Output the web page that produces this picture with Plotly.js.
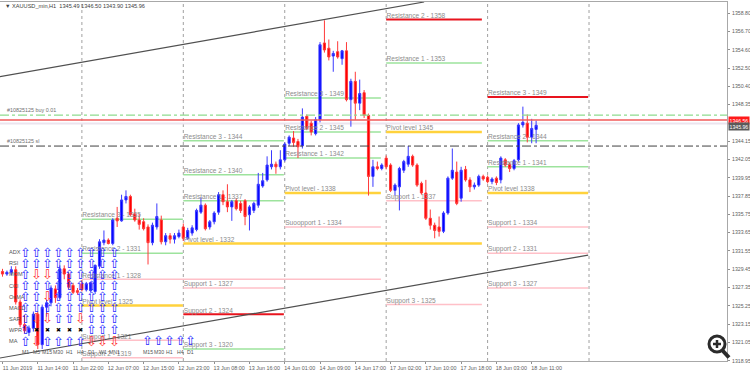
<!DOCTYPE html>
<html><head><meta charset="utf-8">
<script src="https://cdn.plot.ly/plotly-3.0.1.min.js"></script>
<style>html,body{margin:0;padding:0;background:#fff}#chart{width:750px;height:371px}</style>
</head><body><div id="chart"></div>
<script>
// ---- candle data (H1 bars, 11 Jun 06:00 .. 18 Jun 11:00) ----
const open  = [1329.2,1328.9,1329.1,1329.4,1325.7,1323.1,1322.2,1322.7,1324.3,1320.8,
 1325.1,1325.6,1327.2,1326.2,1329.5,1328.9,1327.6,1327.0,1327.8,1327.1,
 1327.0,1326.9,1329.8,1332.5,1332.8,1332.4,1335.3,1335.0,1337.4,1337.8,
 1335.8,1335.1,1334.9,1334.3,1332.5,1334.3,1335.1,1332.6,1333.3,1332.9,
 1333.2,1334.3,1333.0,1333.6,1334.0,1336.0,1336.8,1334.3,1334.9,1336.0,
 1338.0,1337.2,1336.6,1337.3,1337.0,1337.3,1335.7,1336.2,1336.8,1339.0,
 1339.7,1341.2,1341.5,1341.2,1342.0,1343.9,1344.5,1344.1,1343.6,1347.0,
 1346.2,1345.0,1346.6,1355.4,1354.8,1353.9,1354.4,1353.6,1354.5,1348.9,
 1351.0,1348.5,1349.7,1347.1,1340.1,1341.2,1341.0,1342.2,1341.4,1338.5,
 1338.9,1340.8,1341.5,1342.4,1341.4,1339.3,1338.2,1335.3,1334.5,1334.3,
 1333.8,1335.9,1339.9,1340.6,1337.6,1340.9,1339.7,1338.9,1339.1,1340.1,
 1340.0,1339.5,1339.9,1339.7,1342.0,1341.5,1341.0,1342.0,1346.0,1346.2,
 1344.6,1345.49];
const high  = [1329.5,1329.3,1329.8,1329.8,1326.0,1324.2,1323.0,1324.6,1324.6,1325.4,
 1326.0,1327.6,1327.6,1329.9,1329.9,1329.1,1327.9,1327.3,1328.2,1328.0,
 1328.0,1330.0,1332.9,1333.9,1333.0,1335.3,1336.6,1338.0,1338.5,1338.0,
 1336.4,1335.8,1335.3,1334.6,1334.8,1337.0,1335.6,1333.6,1333.6,1333.6,
 1334.0,1334.7,1334.2,1334.5,1336.4,1337.7,1337.0,1335.1,1336.1,1338.3,
 1338.5,1339.2,1337.4,1337.6,1337.3,1337.5,1336.8,1337.2,1340.5,1340.5,
 1342.4,1343.1,1341.8,1343.1,1344.0,1344.8,1345.3,1344.4,1347.9,1347.2,
 1346.5,1346.9,1355.5,1358.0,1355.8,1354.5,1355.6,1354.6,1355.5,1351.3,
 1352.1,1351.2,1350.0,1347.3,1342.0,1341.8,1341.6,1342.5,1341.6,1339.3,
 1341.2,1342.0,1343.6,1342.6,1341.6,1339.5,1339.7,1336.3,1334.8,1335.5,
 1336.1,1340.1,1343.3,1341.8,1341.2,1341.3,1340.0,1339.4,1340.3,1340.3,
 1340.2,1340.0,1340.1,1342.4,1342.2,1341.7,1342.1,1346.2,1348.1,1347.2,
 1346.7,1346.50];
const low   = [1328.6,1328.7,1328.8,1325.4,1322.8,1322.1,1321.8,1322.3,1320.3,1320.3,
 1324.0,1325.2,1325.6,1326.0,1328.3,1327.2,1326.6,1326.5,1326.9,1326.9,
 1326.8,1326.6,1329.5,1332.2,1332.3,1332.2,1334.3,1334.9,1337.0,1335.5,
 1334.9,1334.0,1333.9,1330.0,1332.2,1334.0,1332.3,1332.2,1332.4,1332.4,
 1333.0,1332.7,1332.8,1333.3,1333.8,1335.8,1333.9,1334.0,1334.6,1335.7,
 1336.8,1336.0,1335.0,1336.2,1335.9,1334.5,1333.9,1335.9,1336.5,1338.8,
 1339.5,1340.9,1340.4,1340.9,1341.8,1343.6,1343.5,1342.2,1343.3,1345.4,
 1344.8,1344.8,1346.3,1354.3,1353.4,1352.1,1353.6,1352.9,1348.7,1345.8,
 1346.6,1347.7,1346.8,1337.9,1338.9,1340.8,1340.8,1340.9,1338.3,1337.9,
 1336.2,1340.5,1341.2,1341.2,1338.9,1338.0,1335.1,1334.0,1333.0,1333.2,
 1333.6,1335.7,1339.7,1336.8,1337.2,1339.5,1338.3,1338.6,1338.9,1339.6,
 1339.3,1339.2,1339.1,1339.3,1341.2,1340.6,1340.8,1341.8,1345.7,1344.0,
 1343.9,1343.90];
const close = [1328.9,1329.1,1329.4,1325.7,1323.1,1322.4,1322.7,1324.3,1320.8,1325.1,
 1325.6,1327.3,1326.2,1329.5,1328.9,1327.4,1326.8,1326.8,1327.1,1327.8,
 1327.9,1329.9,1332.6,1332.8,1332.4,1335.1,1335.0,1337.4,1337.8,1335.7,
 1335.1,1334.6,1334.1,1332.5,1334.5,1335.5,1332.6,1333.3,1332.9,1333.3,
 1333.6,1333.0,1333.9,1334.2,1336.2,1336.8,1334.1,1334.9,1335.9,1338.0,
 1337.2,1336.6,1337.2,1336.4,1336.2,1335.5,1336.6,1337.0,1339.2,1339.6,
 1341.4,1341.5,1341.2,1342.0,1343.8,1344.6,1344.0,1343.5,1346.9,1345.6,
 1345.2,1346.6,1355.2,1354.6,1353.8,1354.2,1353.8,1354.5,1348.9,1351.0,
 1348.5,1349.6,1347.1,1340.1,1341.2,1341.0,1341.4,1341.2,1338.5,1339.1,
 1341.0,1341.8,1342.4,1341.4,1339.1,1338.2,1335.3,1334.5,1333.9,1333.8,
 1335.9,1339.9,1340.8,1337.0,1340.8,1339.7,1338.9,1339.1,1340.1,1339.8,
 1339.5,1339.8,1339.4,1342.2,1341.4,1341.0,1341.9,1346.0,1346.3,1344.6,
 1345.6,1345.96];
const barIdx = open.map((_, i) => i);

// ---- time axis ----
const tickIdx  = [0,8,16,24,32,40,48,56,64,72,80,88,96,104,112,120];
const tickText = ["11 Jun 2019","11 Jun 14:00","11 Jun 22:00","12 Jun 07:00","12 Jun 15:00",
 "12 Jun 23:00","13 Jun 08:00","13 Jun 16:00","14 Jun 01:00","14 Jun 09:00","14 Jun 17:00",
 "17 Jun 02:00","17 Jun 10:00","17 Jun 18:00","18 Jun 03:00","18 Jun 11:00"];
const dayStart = [18,41,64,87,110,133];

// ---- price axis ----
const priceTicks = [1318.95,1321.05,1323.15,1325.25,1327.35,1329.45,1331.55,1333.65,1335.75,
 1337.85,1339.95,1342.05,1344.15,1348.35,1350.40,1352.50,1354.60,1356.70,1358.80];

// ---- pivot levels ----
const pivStart = [18,18,18,18,18,18, 41,41,41,41,41,41,41, 64,64,64,64,64, 87,87,87,87,87, 110,110,110,110,110,110,110];
const pivEnd   = [40.9,40.9,85.8,40.9,40.9,40.9, 63.8,63.8,63.8,108.7,63.8,63.8,63.8, 85.8,85.8,85.8,85.8,85.8, 108.7,108.7,108.7,108.7,108.7, 132.8,132.8,132.8,132.8,132.8,132.8,132.8];
const pivPrice = [1335.2,1331.3,1328.3,1325.3,1321.3,1319.3, 1344.2,1340.3,1337.3,1332.4,1327.3,1324.3,1320.3,
 1349.1,1345.2,1342.2,1338.2,1334.3, 1358.1,1353.1,1345.2,1337.3,1325.4,
 1349.2,1344.2,1341.2,1338.2,1334.3,1331.3,1327.3];
const pivKind  = ["G","G","P","Y","P","P", "G","G","G","Y","P","R","G", "G","G","G","Y","P", "R","G","Y","P","P", "R","G","G","Y","P","P","P"];
const pivLabel = ["Resistance 3 - 1335","Resistance 2 - 1331","Resistance 1 - 1328","Pivot level - 1325","Support 1 - 1321","Support 2 - 1319",
 "Resistance 3 - 1344","Resistance 2 - 1340","Resistance 1 - 1337","Pivot level - 1332","Support 1 - 1327","Support 2 - 1324","Support 3 - 1320",
 "Resistance 3 - 1349","Resistance 2 - 1345","Resistance 1 - 1342","Pivot level - 1338","Suoopport 1 - 1334",
 "Resistance 2 - 1358","Resistance 1 - 1353","Pivot level 1345","Support 1 - 1337","Support 3 - 1325",
 "Resistance 3 - 1349","Resistance 2 - 1344","Resistance 1 - 1341","Pivot level 1338","Support 1 - 1334","Support 2 - 1331","Support 3 - 1327"];

// ---- trend channel lines [bar, price] ----
const trendStartX = [-0.6, -0.6];
const trendStartY = [1351.53, 1319.27];
const trendEndX   = [95.6, 132.8];
const trendEndY   = [1360.10, 1331.08];

// ---- order / price lines ----
const buyPrice = 1347.13, slPrice = 1343.58, askPrice = 1346.56, bidPrice = 1345.96;
const orderTexts = ["#10825125 buy 0.01", "#10825125 sl"];
const titleText = "▼ XAUUSD_min,H1  1345.49 1346.50 1343.90 1345.96";

// ---- signal panel ----
const sigRows = ["ADX","RSI","MOM","CCI","OsMA","MACD","SAR","WPR","MA"];
const sigCols = ["M1","M5","M15","M30","H1","H4","D1","W1","MN1"];
const sigGrid = [
 "uuuuuuuuu",
 "uuuuuuuuu",
 "udduuuuuu",
 "uuuuuuuuu",
 "uuduuuuuu",
 "uuuuuuuuu",
 "udduuduuu",
 "uxxxxxuuu",
 "uduuuuddd"];
const sig2Cols = ["M15","M30","H1","H4","D1"];
const sig2Row  = "uuuuu";

// ---------------- layout helpers ----------------
const W = 750, H = 371, ML = 0, MR = 23, MT = 2, MB = 10;
const PW = W - ML - MR, PH = H - MT - MB;
const px = x => (x - ML) / PW;
const py = y => 1 - (y - MT) / PH;
const FONT = "Liberation Sans, Arial, sans-serif";

const kindStyle = {
  G: {color:"#9de39d", width:1.5},
  P: {color:"#ffc0c8", width:1.5},
  Y: {color:"#ffd23c", width:2.5},
  R: {color:"#e8141e", width:2}
};

const shapes = [];
dayStart.forEach(d => shapes.push({type:"line", xref:"x", yref:"paper", x0:d, x1:d, y0:0, y1:1,
  line:{color:"#a0a0a0", width:1, dash:"dot"}, layer:"below"}));
pivPrice.forEach((p, i) => shapes.push({type:"line", xref:"x", yref:"y", x0:pivStart[i], x1:pivEnd[i], y0:p, y1:p,
  line:kindStyle[pivKind[i]], layer:"below"}));
trendStartX.forEach((x0, i) => shapes.push({type:"line", xref:"x", yref:"y", x0:x0, y0:trendStartY[i],
  x1:trendEndX[i], y1:trendEndY[i], line:{color:"#505050", width:1.2}}));
shapes.push({type:"line", xref:"paper", yref:"y", x0:0, x1:1, y0:bidPrice+0.2, y1:bidPrice+0.2, line:{color:"#ece4ee", width:2}, layer:"below"});
shapes.push({type:"line", xref:"paper", yref:"y", x0:0, x1:1, y0:buyPrice, y1:buyPrice, line:{color:"#8fdc8f", width:1.2, dash:"dashdot"}});
shapes.push({type:"line", xref:"paper", yref:"y", x0:0, x1:1, y0:askPrice, y1:askPrice, line:{color:"#f25a5a", width:1.5}});
shapes.push({type:"line", xref:"paper", yref:"y", x0:0, x1:1, y0:slPrice, y1:slPrice, line:{color:"#404040", width:1, dash:"dashdot"}});
// zoom (magnifier) icon
shapes.push({type:"line", xref:"paper", yref:"paper", x0:px(722.5), y0:py(350.5), x1:px(729), y1:py(357.5), line:{color:"#2b2b2b", width:4}});
shapes.push({type:"circle", xref:"paper", yref:"paper", x0:px(709), x1:px(725), y0:py(336), y1:py(352), fillcolor:"#ffffff", line:{color:"#2b2b2b", width:3}});
shapes.push({type:"line", xref:"paper", yref:"paper", x0:px(713), x1:px(721), y0:py(344), y1:py(344), line:{color:"#2b2b2b", width:2.5}});
shapes.push({type:"line", xref:"paper", yref:"paper", x0:px(717), x1:px(717), y0:py(340), y1:py(348), line:{color:"#2b2b2b", width:2.5}});

const annotations = [];
annotations.push({xref:"paper", yref:"paper", x:px(3), y:py(6), xanchor:"left", yanchor:"middle", showarrow:false,
  text:titleText, font:{family:FONT, size:5.6, color:"#404040"}});
annotations.push({xref:"x", yref:"y", x:0.6, y:buyPrice, xanchor:"left", yanchor:"bottom", showarrow:false,
  text:orderTexts[0], font:{family:FONT, size:5.4, color:"#707070"}});
annotations.push({xref:"x", yref:"y", x:0.6, y:slPrice, xanchor:"left", yanchor:"bottom", showarrow:false,
  text:orderTexts[1], font:{family:FONT, size:5.4, color:"#707070"}});
// price labels on the axis
annotations.push({xref:"paper", yref:"y", x:1, y:askPrice, xanchor:"left", yanchor:"middle", showarrow:false,
  text:askPrice.toFixed(2), bgcolor:"#ff1a1a", borderpad:0.5, xshift:1, font:{family:FONT, size:5.2, color:"#ffffff"}});
annotations.push({xref:"paper", yref:"y", x:1, y:bidPrice, xanchor:"left", yanchor:"middle", showarrow:false,
  text:bidPrice.toFixed(2), bgcolor:"#5a5a5a", borderpad:0.5, xshift:1, yshift:-1, font:{family:FONT, size:5.2, color:"#ffffff"}});

// signal panel
const colX = sigCols.map((_, j) => 25 + 11.13 * j);
const rowY = sigRows.map((_, i) => 252.3 + 11.09 * i);
const glyph = {u:"⇧", d:"⇩", x:"✖"};
const gcol  = {u:"#2a2aff", d:"#ff3030", x:"#000000"};
const gsize = {u:13, d:13, x:6};
sigRows.forEach((r, i) => {
  annotations.push({xref:"paper", yref:"paper", x:px(7), y:py(rowY[i]), xanchor:"left", yanchor:"middle", showarrow:false,
    text:r, font:{family:FONT, size:5.6, color:"#555555"}});
  sigGrid[i].split("").forEach((s, j) => annotations.push({xref:"paper", yref:"paper", x:px(colX[j]), y:py(rowY[i]),
    xanchor:"center", yanchor:"middle", showarrow:false, text:glyph[s],
    font:{family:"DejaVu Sans", size:gsize[s], color:gcol[s]}}));
});
sigCols.forEach((c, j) => annotations.push({xref:"paper", yref:"paper", x:px(colX[j]), y:py(351.5), xanchor:"center", yanchor:"middle",
  showarrow:false, text:c, font:{family:FONT, size:5.2, color:"#555555"}}));
const col2X = sig2Cols.map((_, j) => 147.7 + 10.8 * j);
sig2Cols.forEach((c, j) => {
  annotations.push({xref:"paper", yref:"paper", x:px(col2X[j]), y:py(340.5), xanchor:"center", yanchor:"middle", showarrow:false,
    text:glyph[sig2Row[j]], font:{family:"DejaVu Sans", size:13, color:gcol[sig2Row[j]]}});
  annotations.push({xref:"paper", yref:"paper", x:px(col2X[j]), y:py(351.5), xanchor:"center", yanchor:"middle", showarrow:false,
    text:c, font:{family:FONT, size:5.2, color:"#555555"}});
});

const labelTrace = {type:"scatter", mode:"text", x:pivStart.map(s => s + 0.1), y:pivPrice, text:pivLabel,
  textposition:"top right", textfont:{family:FONT, size:6.6, color:"#8c8c8c"}, hoverinfo:"skip", showlegend:false, cliponaxis:false};

const candleTrace = {type:"candlestick", x:barIdx, open:open, high:high, low:low, close:close,
  increasing:{line:{color:"#3a3aff", width:1}, fillcolor:"#0000ff"},
  decreasing:{line:{color:"#ff3a3a", width:1}, fillcolor:"#ff0000"},
  whiskerwidth:0, hoverinfo:"skip", showlegend:false};

const barsPerPx = 4.41;
const layout = {
  width:W, height:H, margin:{l:ML, r:MR, t:MT, b:MB, pad:0},
  paper_bgcolor:"#ffffff", plot_bgcolor:"#ffffff", showlegend:false,
  xaxis:{type:"linear", range:[-2.5/barsPerPx, (PW-2.5)/barsPerPx], tickvals:tickIdx, ticktext:tickText,
    ticks:"outside", ticklen:2, tickcolor:"#909090", ticklabelshift:15, ticklabelstandoff:0,
    tickfont:{family:FONT, size:5.4, color:"#606060"}, showgrid:false, zeroline:false,
    showline:true, mirror:true, linecolor:"#a8a8a8", linewidth:1, rangeslider:{visible:false}, fixedrange:true},
  yaxis:{side:"right", range:[1318.93, 1360.10], tickvals:priceTicks, tickformat:".2f",
    ticks:"outside", ticklen:2, tickcolor:"#909090", ticklabelstandoff:1, tickfont:{family:FONT, size:5.2, color:"#606060"},
    showgrid:false, zeroline:false, showline:true, mirror:true, linecolor:"#a8a8a8", linewidth:1, fixedrange:true},
  shapes:shapes, annotations:annotations
};
Plotly.newPlot("chart", [labelTrace, candleTrace], layout, {staticPlot:true, displayModeBar:false});
</script></body></html>
